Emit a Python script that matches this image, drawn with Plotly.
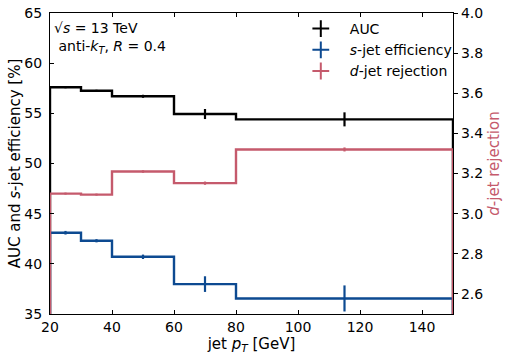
import plotly.graph_objects as go

# bin edges and contents
pt_edges = [20, 30, 40, 60, 80, 150]
pt_centers = [25, 35, 50, 70, 115]

auc = [57.6, 57.25, 56.7, 54.93, 54.4]
auc_err = [0.1, 0.1, 0.15, 0.5, 0.7]

s_eff = [43.1, 42.3, 40.7, 37.98, 36.55]
s_eff_err = [0.18, 0.16, 0.22, 0.78, 1.3]

d_rej = [3.10, 3.095, 3.21, 3.152, 3.32]
d_rej_err = [0.005, 0.005, 0.006, 0.008, 0.01]

left_range = [35, 65]
right_range = [2.5, 4.0]

black = "#000000"
blue = "#0d4a91"
pink = "#c55a6c"
font_family = "DejaVu Sans"


def step_xy(edges, vals, base):
    # histtype='step' style: starts and ends at the baseline
    xs, ys = [edges[0]], [base]
    for i, v in enumerate(vals):
        xs += [edges[i], edges[i + 1]]
        ys += [v, v]
    xs.append(edges[-1])
    ys.append(base)
    return xs, ys


fig = go.Figure()

series = [
    (auc, auc_err, black, "y", left_range[0], "AUC"),
    (s_eff, s_eff_err, blue, "y", left_range[0], "<i>s</i>-jet efficiency"),
    (d_rej, d_rej_err, pink, "y2", right_range[0], "<i>d</i>-jet rejection"),
]

for vals, errs, col, yax, base, name in series:
    xs, ys = step_xy(pt_edges, vals, base)
    fig.add_trace(go.Scatter(x=xs, y=ys, mode="lines", yaxis=yax,
                             line=dict(color=col, width=2.4), showlegend=False,
                             hoverinfo="skip"))
    fig.add_trace(go.Scatter(x=pt_centers, y=vals, mode="markers", yaxis=yax,
                             marker=dict(size=0.1, color=col),
                             error_y=dict(type="data", array=errs, color=col,
                                          thickness=2.2, width=0),
                             showlegend=False))
    # legend-only entry with a "+" glyph like matplotlib errorbar
    fig.add_trace(go.Scatter(x=[None], y=[None], mode="markers", yaxis=yax,
                             marker=dict(symbol="cross-thin", size=15,
                                         line=dict(color=col, width=2.4)),
                             name=name))

fig.add_annotation(text="√<i>s</i> = 13 TeV<br> anti-<i>k</i><sub><i>T</i></sub>, <i>R</i> = 0.4",
                   xref="paper", yref="paper", x=0.005, y=0.985,
                   xanchor="left", yanchor="top", align="left", showarrow=False,
                   font=dict(size=14, color="black", family=font_family))

fig.update_layout(
    width=508, height=360,
    margin=dict(l=50, r=55, t=13, b=46),
    paper_bgcolor="white", plot_bgcolor="white",
    font=dict(family=font_family, size=14, color="black"),
    legend=dict(x=0.6, y=1.0, xanchor="left", yanchor="top",
                bgcolor="rgba(0,0,0,0)", font=dict(size=14),
                itemsizing="constant", itemwidth=48, tracegroupgap=0),
    xaxis=dict(range=[20, 150], tickvals=[20, 40, 60, 80, 100, 120, 140],
               ticks="inside", ticklen=4, tickcolor="black", mirror="ticks",
               showline=True, linecolor="black", linewidth=1.2,
               showgrid=False, zeroline=False, automargin=False,
               ticklabeloverflow="allow",
               title=dict(text="jet <i>p</i><sub><i>T</i></sub> [GeV]",
                          font=dict(size=15), standoff=4)),
    yaxis=dict(range=left_range, tickvals=[35, 40, 45, 50, 55, 60, 65],
               ticks="inside", ticklen=4, tickcolor="black",
               showline=True, linecolor="black", linewidth=1.2,
               showgrid=False, zeroline=False, automargin=False,
               ticklabelstandoff=4, ticklabeloverflow="allow",
               title=dict(text="AUC and <i>s</i>-jet efficiency [%]",
                          font=dict(size=15), standoff=0)),
    yaxis2=dict(range=right_range, overlaying="y", side="right",
                tickvals=[2.6, 2.8, 3.0, 3.2, 3.4, 3.6, 3.8, 4.0],
                ticktext=["2.6", "2.8", "3.0", "3.2", "3.4", "3.6", "3.8", "4.0"],
                ticks="outside", ticklen=4, tickcolor="black",
                showline=True, linecolor="black", linewidth=1.2,
                showgrid=False, zeroline=False, automargin=False,
                ticklabeloverflow="allow",
                title=dict(text="<i>d</i>-jet rejection",
                           font=dict(size=15, color=pink), standoff=6)),
)

# drop the default page margin so the figure sits at the window origin
fig.write_html("out.html", config={"displayModeBar": False},
               post_script="document.body.style.margin='0';")
